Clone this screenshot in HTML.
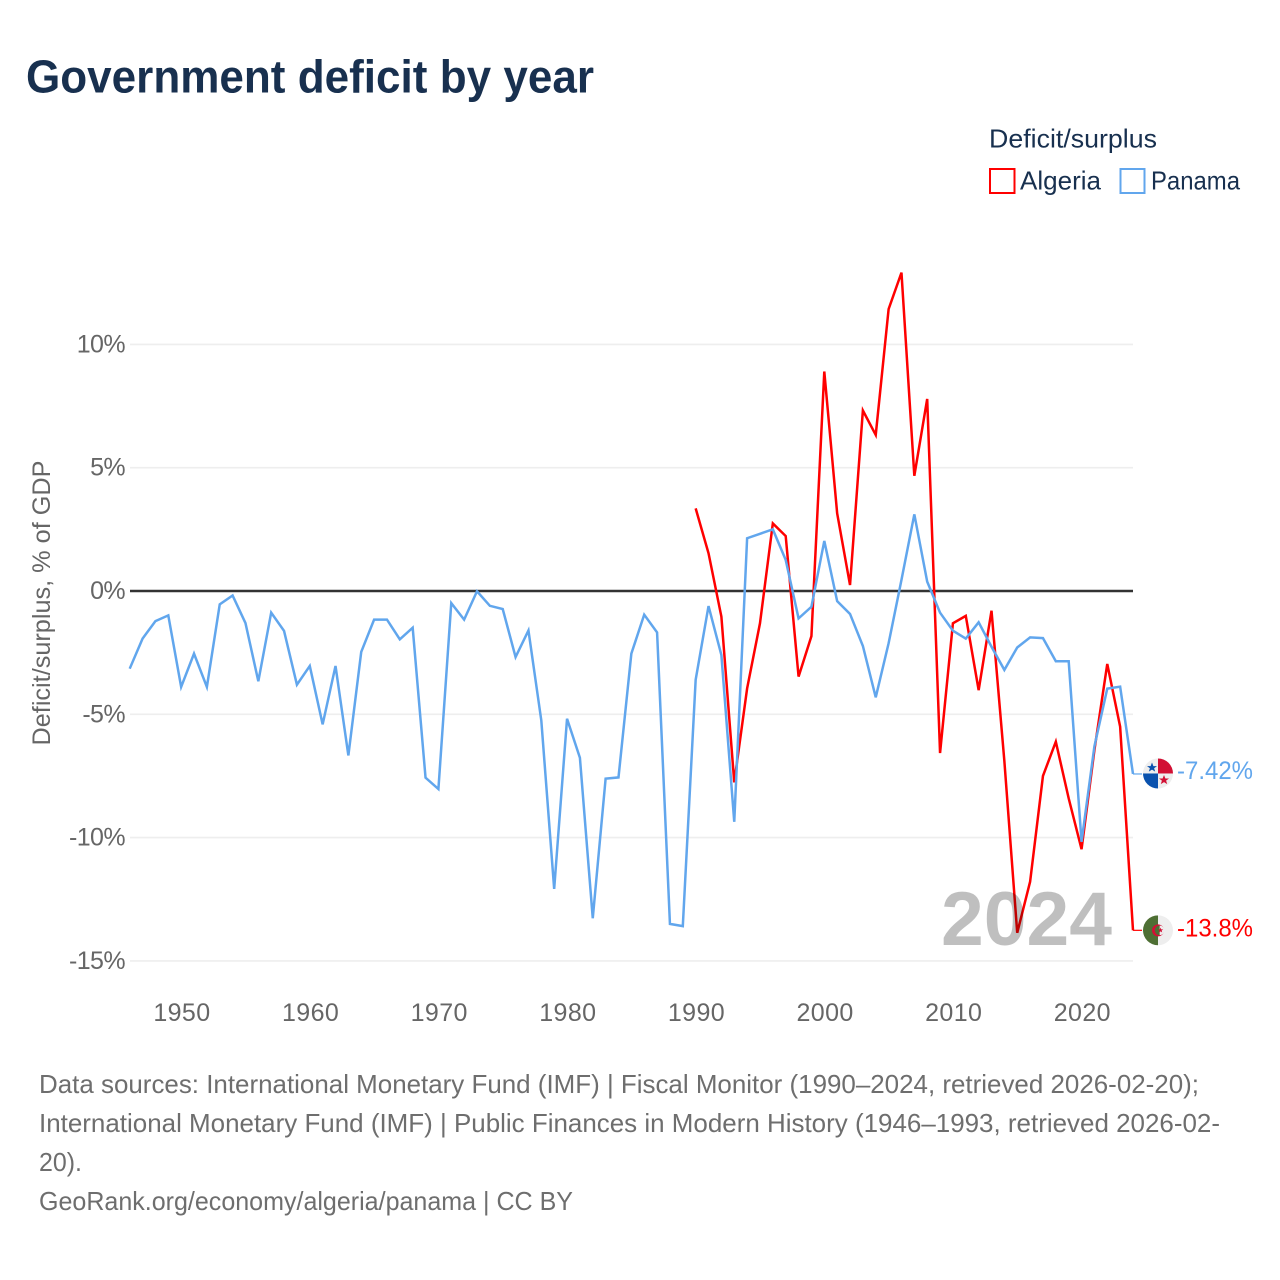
<!DOCTYPE html>
<html lang="en">
<head>
<meta charset="utf-8">
<title>Government deficit by year</title>
<style>
  html, body { margin: 0; padding: 0; background: #fff; }
  #chart { display: block; width: 1280px; height: 1280px; font-family: "Liberation Sans", sans-serif; }
  .tick { font-size: 25px; fill: #666666; }
  .foot { font-size: 26px; fill: #6e6e6e; }
  .legend { font-size: 26px; fill: #18304f; }
</style>
</head>
<body>
<svg id="chart" xmlns="http://www.w3.org/2000/svg" width="1280" height="1280" viewBox="0 0 1280 1280">
  <defs>
    <clipPath id="flag-clip"><circle cx="0" cy="0" r="15"></circle></clipPath>
  </defs>
  <rect x="0" y="0" width="1280" height="1280" fill="#ffffff"></rect>
  <text x="26" y="92.5" font-size="46" font-weight="700" fill="#18304f" textLength="568" lengthAdjust="spacingAndGlyphs">Government deficit by year</text>

  <g>
    <text class="legend" x="989" y="147.5" textLength="168" lengthAdjust="spacingAndGlyphs">Deficit/surplus</text>
    <rect x="990" y="169" width="24.5" height="24" fill="none" stroke="#ff0000" stroke-width="2"></rect>
    <text class="legend" x="1020" y="189.5" textLength="81" lengthAdjust="spacingAndGlyphs">Algeria</text>
    <rect x="1120.5" y="169" width="24" height="24" fill="none" stroke="#61a6ed" stroke-width="2"></rect>
    <text class="legend" x="1151" y="189.5" textLength="89" lengthAdjust="spacingAndGlyphs">Panama</text>
  </g>

  <text transform="translate(50,603) rotate(-90)" text-anchor="middle" font-size="25" fill="#666666" textLength="285" lengthAdjust="spacingAndGlyphs">Deficit/surplus, % of GDP</text>

  <g id="grid-layer"></g>
  <g id="y-tick-layer"></g>
  <g id="x-tick-layer"></g>
  <g id="series-layer"></g>

  <text x="941" y="945" font-size="76" font-weight="700" fill="#000000" fill-opacity="0.25" textLength="171" lengthAdjust="spacingAndGlyphs">2024</text>

  <g id="flag-panama" clip-path="url(#flag-clip)">
    <rect x="-15" y="-15" width="30" height="30" fill="#eeeeee"></rect>
    <rect x="0" y="-15" width="15" height="15" fill="#d21034"></rect>
    <rect x="-15" y="0" width="15" height="15" fill="#0a52ae"></rect>
    <polygon points="-6,-11 -4.6,-7.4 -1,-7.4 -3.9,-5.2 -2.8,-1.8 -6,-3.8 -9.2,-1.8 -8.1,-5.2 -11,-7.4 -7.4,-7.4" fill="#0a52ae"></polygon>
    <polygon points="6,1.5 7.4,5 11,5 8.1,7.2 9.2,10.6 6,8.6 2.8,10.6 3.9,7.2 1,5 4.6,5" fill="#d21034"></polygon>
  </g>
  <g id="flag-algeria" clip-path="url(#flag-clip)">
    <rect x="-15" y="-15" width="15" height="30" fill="#4e6f34"></rect>
    <rect x="0" y="-15" width="15" height="30" fill="#eeeeee"></rect>
    <circle cx="0" cy="0" r="6" fill="#d21034"></circle>
    <circle cx="1.6" cy="0" r="4.8" fill="#4e6f34" fill-opacity="0"></circle>
    <path d="M0,-4.8 A4.8,4.8 0 0 1 0,4.8 Z" fill="#eeeeee" transform="translate(1.6,0)"></path>
    <path d="M1.6,-4.8 A4.8,4.8 0 0 0 1.6,4.8 Z" fill="#4e6f34"></path>
    <polygon points="2.5,-2.8 3.2,-0.9 5.2,-0.9 3.6,0.3 4.2,2.2 2.5,1.1 0.8,2.2 1.4,0.3 -0.2,-0.9 1.8,-0.9" fill="#d21034"></polygon>
  </g>

  <g>
    <text class="foot" x="39" y="1093" textLength="1160" lengthAdjust="spacingAndGlyphs">Data sources: International Monetary Fund (IMF) | Fiscal Monitor (1990–2024, retrieved 2026-02-20);</text>
    <text class="foot" x="39" y="1132" textLength="1181" lengthAdjust="spacingAndGlyphs">International Monetary Fund (IMF) | Public Finances in Modern History (1946–1993, retrieved 2026-02-</text>
    <text class="foot" x="39" y="1171" textLength="43" lengthAdjust="spacingAndGlyphs">20).</text>
    <text class="foot" x="39" y="1210" textLength="534" lengthAdjust="spacingAndGlyphs">GeoRank.org/economy/algeria/panama | CC BY</text>
  </g>
</svg>

<script>
const panamaYears = [1946,1947,1948,1949,1950,1951,1952,1953,1954,1955,1956,1957,1958,1959,1960,1961,1962,1963,1964,1965,1966,1967,1968,1969,1970,1971,1972,1973,1974,1975,1976,1977,1978,1979,1980,1981,1982,1983,1984,1985,1986,1987,1988,1989,1990,1991,1992,1993,1994,1995,1996,1997,1998,1999,2000,2001,2002,2003,2004,2005,2006,2007,2008,2009,2010,2011,2012,2013,2014,2015,2016,2017,2018,2019,2020,2021,2022,2023,2024];
const panamaValues = [-3.15,-1.93,-1.22,-0.99,-3.89,-2.54,-3.89,-0.54,-0.18,-1.30,-3.66,-0.88,-1.62,-3.80,-3.04,-5.41,-3.04,-6.67,-2.47,-1.16,-1.16,-1.96,-1.49,-7.57,-8.03,-0.49,-1.16,-0.01,-0.60,-0.73,-2.68,-1.60,-5.25,-12.08,-5.18,-6.76,-13.27,-7.61,-7.56,-2.54,-0.96,-1.68,-13.50,-13.59,-3.60,-0.61,-2.60,-9.36,2.14,2.32,2.50,1.26,-1.11,-0.64,2.03,-0.41,-0.93,-2.23,-4.31,-2.12,0.45,3.11,0.38,-0.88,-1.61,-1.93,-1.27,-2.26,-3.20,-2.29,-1.88,-1.91,-2.85,-2.85,-10.17,-6.30,-3.96,-3.88,-7.42];
const algeriaYears = [1990,1991,1992,1993,1994,1995,1996,1997,1998,1999,2000,2001,2002,2003,2004,2005,2006,2007,2008,2009,2010,2011,2012,2013,2014,2015,2016,2017,2018,2019,2020,2021,2022,2023,2024];
const algeriaValues = [3.35,1.53,-1.04,-7.76,-3.95,-1.31,2.74,2.23,-3.47,-1.83,8.90,3.15,0.24,7.32,6.33,11.43,12.91,4.67,7.79,-6.57,-1.31,-1.01,-4.02,-0.80,-6.90,-13.86,-11.79,-7.50,-6.11,-8.41,-10.47,-6.45,-2.96,-5.50,-13.76];
const yTickValues = [10,5,0,-5,-10,-15];
const yTickLabels = ["10%","5%","0%","-5%","-10%","-15%"];
const xTickYears = [1950,1960,1970,1980,1990,2000,2010,2020];
const panamaEndLabel = "-7.42%";
const algeriaEndLabel = "-13.8%";

const SVG_NS = "http://www.w3.org/2000/svg";
function xScale(year) { return 129.7 + (year - 1946) * (1133 - 129.7) / (2024 - 1946); }
function yScale(value) { return 591 - value * 24.66; }
function pointsFor(yearList, valueList) {
  return yearList.map(function (yr, i) { return xScale(yr).toFixed(2) + "," + yScale(valueList[i]).toFixed(2); }).join(" ");
}
function make(tag, attrs, parent) {
  const el = document.createElementNS(SVG_NS, tag);
  Object.keys(attrs).forEach(function (k) { el.setAttribute(k, attrs[k]); });
  parent.appendChild(el);
  return el;
}

const gridLayer = document.getElementById("grid-layer");
const yTickLayer = document.getElementById("y-tick-layer");
const xTickLayer = document.getElementById("x-tick-layer");
const seriesLayer = document.getElementById("series-layer");

yTickValues.forEach(function (v, i) {
  const isZero = v === 0;
  const line = make("line", { x1: 130, x2: 1133, y1: yScale(v), y2: yScale(v), stroke: isZero ? "#333333" : "#eeeeee", "stroke-width": isZero ? 2.4 : 1.6 }, gridLayer);
  
  
  const label = make("text", { x: 125, y: yScale(v) + 8, "text-anchor": "end", class: "tick", "letter-spacing": "-0.6" }, yTickLayer);
  
  
  label.textContent = yTickLabels[i];
});

xTickYears.forEach(function (yr) {
  const label = make("text", { x: xScale(yr) + 0.8, y: 1021, "text-anchor": "middle", class: "tick", "letter-spacing": "0.4" }, xTickLayer);
  
  
  label.textContent = String(yr);
});

const algeriaLine = make("polyline", { points: pointsFor(algeriaYears, algeriaValues), fill: "none", stroke: "#ff0000", "stroke-width": 2.5, "stroke-linejoin": "miter" }, seriesLayer);



const panamaLine = make("polyline", { points: pointsFor(panamaYears, panamaValues), fill: "none", stroke: "#61a6ed", "stroke-width": 2.5, "stroke-linejoin": "miter" }, seriesLayer);



const panamaLast = panamaValues[panamaValues.length - 1];
const algeriaLast = algeriaValues[algeriaValues.length - 1];
const lastX = xScale(2024);

const panamaConnector = make("line", { x1: lastX, x2: lastX + 9, y1: yScale(panamaLast), y2: yScale(panamaLast), stroke: "#61a6ed", "stroke-width": 1.2 }, seriesLayer);



const algeriaConnector = make("line", { x1: lastX, x2: lastX + 9, y1: yScale(algeriaLast), y2: yScale(algeriaLast), stroke: "#ff0000", "stroke-width": 1.2 }, seriesLayer);



document.getElementById("flag-panama").setAttribute("transform", "translate(" + (lastX + 25) + "," + (yScale(panamaLast) - 0.5) + ")");
document.getElementById("flag-algeria").setAttribute("transform", "translate(" + (lastX + 25) + "," + yScale(algeriaLast) + ")");

const panamaValueLabel = make("text", { x: lastX + 44, y: yScale(panamaLast) + 5, "font-size": 25, fill: "#61a6ed", textLength: 76, lengthAdjust: "spacingAndGlyphs" }, seriesLayer);


panamaValueLabel.textContent = panamaEndLabel;

const algeriaValueLabel = make("text", { x: lastX + 44, y: yScale(algeriaLast) + 6, "font-size": 25, fill: "#ff0000", textLength: 76, lengthAdjust: "spacingAndGlyphs" }, seriesLayer);


algeriaValueLabel.textContent = algeriaEndLabel;
</script>
</body>
</html>
